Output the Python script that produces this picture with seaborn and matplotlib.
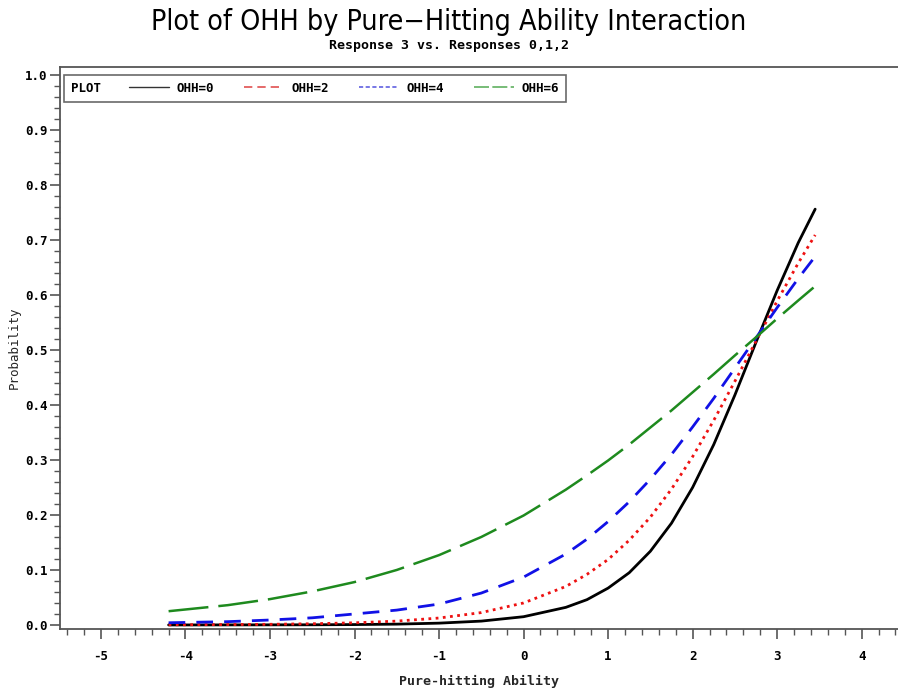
import matplotlib
matplotlib.use("Agg")
import matplotlib.pyplot as plt
from matplotlib.lines import Line2D
from matplotlib.offsetbox import HPacker
from matplotlib.ticker import MultipleLocator, FormatStrFormatter
from matplotlib import font_manager
import pandas as pd
import seaborn as sns

# data
x_vals = [-4.2, -3.5, -3.0, -2.5, -2.0, -1.5, -1.0, -0.5, 0.0, 0.5, 0.75, 1.0, 1.25,
          1.5, 1.75, 2.0, 2.25, 2.5, 2.75, 3.0, 3.25, 3.45]
ohh0 = [0.000, 0.0001, 0.0002, 0.0003, 0.0007, 0.0015, 0.0033, 0.007, 0.015, 0.032,
        0.046, 0.067, 0.095, 0.134, 0.185, 0.250, 0.328, 0.418, 0.514, 0.608, 0.695, 0.756]
ohh2 = [0.0003, 0.0007, 0.0012, 0.0022, 0.0039, 0.007, 0.0126, 0.0225, 0.040, 0.070,
        0.092, 0.119, 0.154, 0.196, 0.247, 0.306, 0.372, 0.443, 0.516, 0.589, 0.658, 0.709]
ohh4 = [0.004, 0.006, 0.009, 0.013, 0.020, 0.027, 0.038, 0.058, 0.087, 0.129,
        0.156, 0.188, 0.224, 0.265, 0.310, 0.360, 0.412, 0.467, 0.522, 0.577, 0.630, 0.670]
ohh6 = [0.025, 0.036, 0.047, 0.061, 0.078, 0.100, 0.127, 0.160, 0.199, 0.246,
        0.272, 0.299, 0.328, 0.359, 0.390, 0.423, 0.456, 0.490, 0.523, 0.557, 0.590, 0.616]
labels = ["OHH=0", "OHH=2", "OHH=4", "OHH=6"]

sns.set_style("ticks")
plt.rcParams['font.family'] = ['DejaVu Sans Mono', 'DejaVu Sans']
plt.rcParams['axes.unicode_minus'] = False
plt.rcParams['text.color'] = 'black'
plt.rcParams['xtick.color'] = '#555555'
plt.rcParams['ytick.color'] = '#555555'
plt.rcParams['xtick.labelcolor'] = 'black'
plt.rcParams['ytick.labelcolor'] = 'black'

df = pd.DataFrame({"x": x_vals * 4,
                   "p": ohh0 + ohh2 + ohh4 + ohh6,
                   "grp": [l for l in labels for _ in x_vals]})

fig = plt.figure(figsize=(8.98, 6.94), dpi=100)
ax = fig.add_axes([0.0668, 0.0937, 0.9332, 0.8098])

colors = ["black", "#ee1111", "#1111e6", "#1e8a1e"]
styles = ["-", (0, (1, 1.6)), (0, (6, 4)), (0, (16, 4))]
widths = [2.0, 2.0, 2.0, 1.8]
for lab, c, ls, lw in zip(labels, colors, styles, widths):
    sns.lineplot(data=df[df.grp == lab], x="x", y="p", ax=ax, color=c,
                 linestyle=ls, linewidth=lw, legend=False)

ax.set_xlim(-5.485, 4.43)
ax.set_ylim(-0.0073, 1.0145)
ax.xaxis.set_major_locator(MultipleLocator(1))
ax.xaxis.set_minor_locator(MultipleLocator(0.2))
ax.yaxis.set_major_locator(MultipleLocator(0.1))
ax.yaxis.set_minor_locator(MultipleLocator(0.02))
ax.yaxis.set_major_formatter(FormatStrFormatter("%.1f"))
ax.tick_params(axis="both", which="major", direction="out", length=7, width=1.2,
               labelsize=9)
ax.tick_params(axis="both", which="minor", direction="out", length=4, width=1)
ax.tick_params(axis="x", which="both", bottom=True, pad=8)
ax.tick_params(axis="y", which="both", left=True, pad=2)
for t in ax.get_xticklabels() + ax.get_yticklabels():
    t.set_fontweight("bold")
for s in ["left", "bottom", "top"]:
    ax.spines[s].set_visible(True)
    ax.spines[s].set_color("#555555")
    ax.spines[s].set_linewidth(1.3)
ax.spines["right"].set_visible(False)

ax.set_xlabel("Pure-hitting Ability", fontsize=9.5, fontweight="bold", labelpad=9)
ax.set_ylabel("Probability", fontsize=9, labelpad=3)

# legend: black solid, red long dash, blue short dash, green long dash
handles = [Line2D([], [], color="#333333", lw=1, ls="-"),
           Line2D([], [], color="#e05050", lw=1.2, ls=(0, (5, 3))),
           Line2D([], [], color="#6060e0", lw=1.2, ls=(0, (2.5, 1.5))),
           Line2D([], [], color="#60b060", lw=1.2, ls=(0, (9, 2)))]
leg = ax.legend(handles, labels, title="PLOT", ncol=4, loc="upper left",
                bbox_to_anchor=(0.0048, 0.986), borderaxespad=0,
                frameon=True, fancybox=False,
                handlelength=3.2, handletextpad=0.6, columnspacing=2.4,
                prop={"size": 9, "weight": "bold"},
                title_fontproperties={"size": 9, "weight": "bold"})
leg.get_frame().set_edgecolor("#444444")
leg.get_frame().set_linewidth(1.2)
# put title to the left of the entries
leg._legend_box = HPacker(pad=5, sep=20, align="center",
                          children=[leg._legend_title_box, leg._legend_handle_box])
leg._legend_box.set_figure(fig)
leg._legend_box.axes = ax
leg._legend_box.set_offset(leg._findoffset)

names = {f.name for f in font_manager.fontManager.ttflist}
title_family = "Liberation Sans Narrow" if "Liberation Sans Narrow" in names else "DejaVu Sans"
fig.text(0.5, 0.968, "Plot of OHH by Pure\u2212Hitting Ability Interaction",
         ha="center", va="center", fontsize=20.5, family=title_family,
         fontstretch="condensed")
fig.text(0.5, 0.934, "Response 3 vs. Responses 0,1,2", ha="center", va="center",
         fontsize=9.5, fontweight="bold")

fig.savefig("out.png", dpi=100)
